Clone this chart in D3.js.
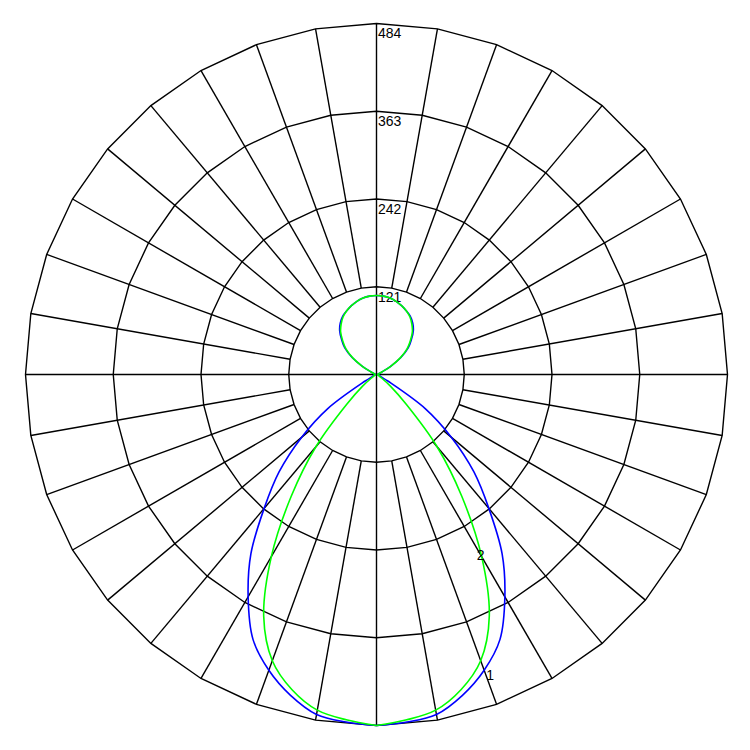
<!DOCTYPE html>
<html>
<head>
<meta charset="utf-8">
<script src="https://cdn.jsdelivr.net/npm/d3@7"></script>
<style>
  html, body { margin: 0; padding: 0; background: #fff; }
  svg { display: block; }
  text { font-family: "Liberation Sans", Arial, sans-serif; font-size: 14px; fill: #000; }
</style>
</head>
<body>
<script>
// ---- data ----
const gammaAngles = d3.range(0, 181, 5); // 0 = nadir (down), 180 = zenith (up)
const seriesNames = ["1", "2"];
const series1 = [484, 481, 476, 458, 434, 403, 354, 302, 241, 190, 135, 82, 18, 6, 4, 3, 2, 2, 2,
                 2, 2, 3, 4, 8, 22, 41, 57, 68, 79, 87, 93, 97, 101, 104.5, 107, 108.5, 109];
const series2 = [484, 478, 470, 450, 420, 368, 290, 205, 130, 58, 25, 9, 4, 3, 2, 2, 2, 2, 2,
                 2, 2, 3, 4, 8, 22, 40, 55, 66, 77, 85, 92, 97, 101, 104.5, 107, 108.5, 109];
const tickValues = [121, 242, 363, 484];
const maxValue = 484;

// ---- layout ----
const W = 750, H = 750;
const cx = 376.5, cy = 374.5, R = 351;
const svg = d3.select("body").append("svg").attr("width", W).attr("height", H);
const g = svg.append("g").attr("transform", `translate(${cx},${cy})`);
const r = d3.scaleLinear().domain([0, maxValue]).range([0, R]);

// grid: polygonal rings every 10 degrees
const gridAngles = d3.range(0, 360, 10).map(d => d * Math.PI / 180);
const ringLine = d3.lineRadial().angle(d => d).curve(d3.curveLinearClosed);
tickValues.forEach(t => {
  g.append("path")
    .attr("d", ringLine.radius(r(t))(gridAngles))
    .attr("fill", "none").attr("stroke", "#000").attr("stroke-width", 1.4);
});
// spokes
gridAngles.forEach((a, i) => {
  const deg = i * 10;
  const full = deg % 90 === 0;
  const r0 = full ? 0 : r(tickValues[0]);
  const r1 = r(maxValue);
  g.append("line")
    .attr("x1", r0 * Math.sin(a)).attr("y1", -r0 * Math.cos(a))
    .attr("x2", r1 * Math.sin(a)).attr("y2", -r1 * Math.cos(a))
    .attr("stroke", "#000").attr("stroke-width", 1.4);
});
// tick labels
tickValues.forEach(t => {
  g.append("text").attr("x", 1.5).attr("y", -r(t) + 14.8).text(t);
});

// curves
const colors = ["#0000ff", "#00ff00"];
const allSeries = [series1, series2];
function pts(vals) {
  const right = gammaAngles.map((gm, i) => [Math.PI - gm * Math.PI / 180, vals[i]]);
  const left = gammaAngles.slice().reverse().map((gm, j) => {
    const i = gammaAngles.length - 1 - j;
    return [Math.PI + gm * Math.PI / 180, vals[i]];
  });
  return right.concat(left.slice(1));
}
const curveLine = d3.lineRadial()
  .angle(d => d[0]).radius(d => r(d[1]))
  .curve(d3.curveCatmullRom.alpha(0.5));
allSeries.forEach((vals, k) => {
  g.append("path")
    .attr("d", curveLine(pts(vals)))
    .attr("fill", "none").attr("stroke", colors[k]).attr("stroke-width", 1.6);
});

// series labels
const labelGamma = [20, 30];
const labelOffset = [[6, 10], [-1, 3]];
allSeries.forEach((vals, k) => {
  const gm = labelGamma[k];
  const i = gammaAngles.indexOf(gm);
  const a = Math.PI - gm * Math.PI / 180;
  const rr = r(vals[i]);
  g.append("text")
    .attr("x", rr * Math.sin(a) + labelOffset[k][0])
    .attr("y", -rr * Math.cos(a) + labelOffset[k][1])
    .attr("text-anchor", "middle")
    .text(seriesNames[k]);
});
</script>
</body>
</html>
